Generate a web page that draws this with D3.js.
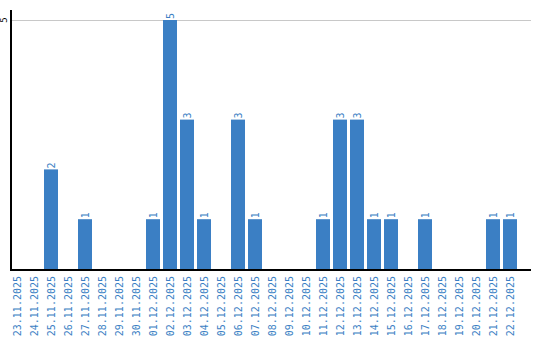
<!DOCTYPE html>
<html><head><meta charset="utf-8">
<script src="https://cdn.jsdelivr.net/npm/d3@7"></script>
<style>body{margin:0;background:#fff}svg{display:block}</style>
</head><body>
<script>
const dates = ["23.11.2025","24.11.2025","25.11.2025","26.11.2025","27.11.2025","28.11.2025","29.11.2025","30.11.2025","01.12.2025","02.12.2025","03.12.2025","04.12.2025","05.12.2025","06.12.2025","07.12.2025","08.12.2025","09.12.2025","10.12.2025","11.12.2025","12.12.2025","13.12.2025","14.12.2025","15.12.2025","16.12.2025","17.12.2025","18.12.2025","19.12.2025","20.12.2025","21.12.2025","22.12.2025"];
const counts = [0,0,2,0,1,0,0,0,1,5,3,1,0,3,1,0,0,0,1,3,3,1,1,0,1,0,0,0,1,1];
const yTicks = [5];

const W = 540, H = 340;
const svg = d3.select("body").append("svg").attr("width", W).attr("height", H);
const font = "'DejaVu Sans Mono', monospace";
const blue = "#3b7fc4";

const x = d3.scaleBand().domain(dates).range([10, 10 + 17 * dates.length]).padding(0);
const barW = 14;
const y = d3.scaleLinear().domain([0, 5]).range([269, 20]);

// gridlines
svg.append("g").selectAll("line").data(yTicks).join("line")
  .attr("x1", 11).attr("x2", 531)
  .attr("y1", d => y(d) + 0.5).attr("y2", d => y(d) + 0.5)
  .attr("stroke", "#c8c8c8").attr("stroke-width", 1);

// bars
svg.append("g").selectAll("rect").data(dates).join("rect")
  .attr("x", d => x(d))
  .attr("width", barW)
  .attr("y", (d, i) => y(counts[i]))
  .attr("height", (d, i) => y(0) - y(counts[i]))
  .attr("fill", blue);

// value labels
svg.append("g").selectAll("text").data(dates.filter((d, i) => counts[i] > 0)).join("text")
  .attr("transform", d => {
    const i = dates.indexOf(d);
    return `translate(${x(d) + barW / 2 + 3.5},${y(counts[i]) - 1}) rotate(-90)`;
  })
  .attr("font-family", font).attr("font-size", 10).attr("fill", blue)
  .attr("text-anchor", "start")
  .text(d => counts[dates.indexOf(d)]);

// y axis line
svg.append("line").attr("x1", 11).attr("x2", 11).attr("y1", 10).attr("y2", 271)
  .attr("stroke", "#000").attr("stroke-width", 2);
// x axis line
svg.append("line").attr("x1", 10).attr("x2", 531).attr("y1", 270).attr("y2", 270)
  .attr("stroke", "#000").attr("stroke-width", 2);

// y tick labels
svg.append("g").selectAll("text").data(yTicks).join("text")
  .attr("transform", d => `translate(7,${y(d)}) rotate(-90)`)
  .attr("font-family", font).attr("font-size", 9).attr("fill", "#000")
  .attr("text-anchor", "middle")
  .text(d => d);

// x labels
svg.append("g").selectAll("text").data(dates).join("text")
  .attr("transform", d => `translate(${x(d) + barW / 2 + 3.5},276) rotate(-90)`)
  .attr("font-family", font).attr("font-size", 10).attr("fill", blue)
  .attr("text-anchor", "end")
  .text(d => d);
</script>
</body></html>
